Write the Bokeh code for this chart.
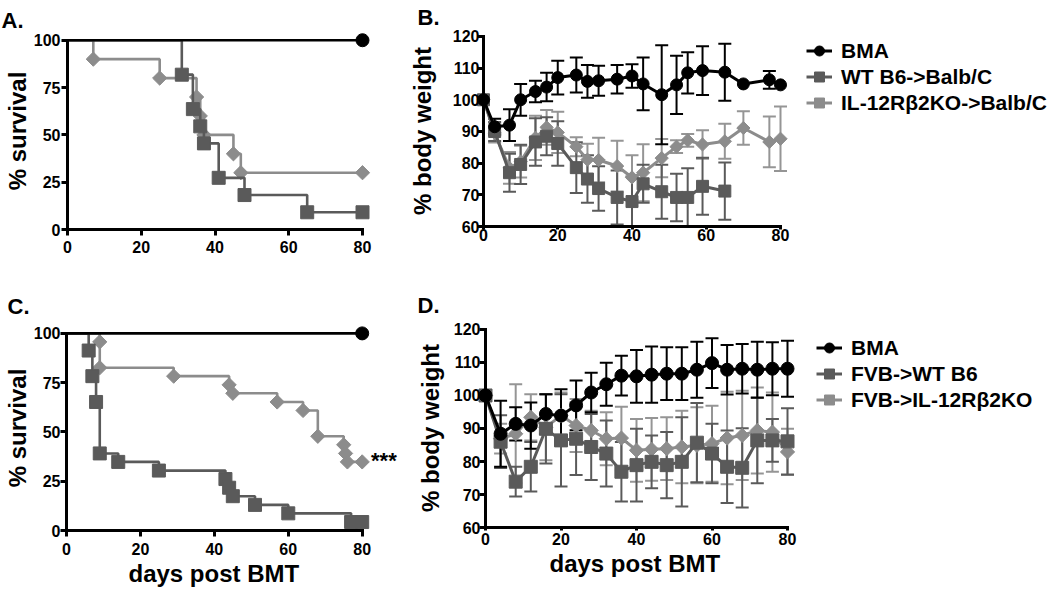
from bokeh.plotting import figure
from bokeh.layouts import column, row
from bokeh.models import (ColumnDataSource, Whisker, TeeHead, Label, Legend,
                          LegendItem, Range1d, FixedTicker, LinearAxis, Title)
from bokeh.embed import file_html
from bokeh.resources import INLINE

# ---------------- data ----------------
# Panel A: survival (%), Balb/C recipients
a_bma_days = [0, 80]
a_bma_surv = [100, 100]
a_wt_days = [0, 31, 34, 36, 37, 41, 48, 65, 80]
a_wt_surv = [100, 81.8, 63.6, 54.5, 45.5, 27.3, 18.2, 9.1, 9.1]
a_ko_days = [0, 7, 25, 35, 36, 37, 45, 47, 80]
a_ko_surv = [100, 90, 80, 70, 60, 50, 40, 30, 30]

# Panel B: % body weight, Balb/C recipients
b_bma_days = [0, 3, 7, 10, 14, 17, 20, 25, 28, 31, 36, 40, 43, 48, 52, 55, 59, 65, 70, 77, 80]
b_bma_val = [100, 91.5, 92, 100, 102.6, 104, 107, 107.8, 105.8, 106, 106.5, 107.5, 105, 101.6,
             104.7, 108.5, 109.2, 108.7, 105, 106.3, 104.7]
b_bma_err = [0, 2.5, 5, 5, 3.4, 4.5, 5.3, 5.5, 5.2, 4.7, 4.5, 3.7, 8.3, 15.6, 9.2, 6.5, 7.7, 9, 0, 2.8, 0]
b_wt_days = [0, 3, 7, 10, 14, 17, 20, 25, 28, 31, 36, 40, 43, 48, 52, 55, 59, 65]
b_wt_val = [100, 90, 77, 79.6, 86.7, 88.5, 86.2, 78.6, 75, 72, 69.2, 67.9, 73.5, 71, 69.2, 69.2, 72.7, 71.2]
b_wt_err = [0, 3, 6, 6.2, 7.5, 6, 7, 8, 7.5, 7, 8.5, 7.9, 6, 8.5, 7.5, 9.2, 9, 9]
b_ko_days = [0, 3, 7, 10, 14, 17, 20, 25, 28, 31, 36, 40, 43, 48, 52, 55, 59, 65, 70, 77, 80]
b_ko_val = [100, 89.5, 78.5, 80.5, 88, 91.3, 89.7, 85.2, 81.1, 81, 79.1, 75.5, 77, 81.6, 85.2,
            87.2, 85.9, 86.9, 91.1, 86.7, 87.7]
b_ko_err = [0, 3, 5, 5, 7, 5.5, 6.5, 3, 5, 7, 8, 7, 9, 6, 2, 2, 4.5, 5.5, 5.3, 8, 10.2]

# Panel C: survival (%), B6 recipients
c_bma_days = [0, 80]
c_bma_surv = [100, 100]
c_wt_days = [0, 6, 7, 8, 9, 14, 25, 43, 44, 45, 51, 60, 77, 80]
c_wt_surv = [100, 91.3, 78.3, 65.2, 39.1, 34.8, 30.4, 26.1, 21.7, 17.4, 13.0, 8.7, 4.3, 4.3]
c_ko_days = [0, 9, 9, 29, 44, 45, 57, 64, 68, 75, 75.5, 76, 80]
c_ko_surv = [100, 95.7, 82.6, 78.3, 73.9, 69.6, 65.2, 60.9, 47.8, 43.5, 39.1, 34.8, 34.8]

# Panel D: % body weight, B6 recipients
d_days = [0, 4, 8, 12, 16, 20, 24, 28, 32, 36, 40, 44, 48, 52, 56, 60, 64, 68, 72, 76, 80]
d_bma_val = [100, 88.4, 91.4, 90.9, 94.4, 93.9, 97, 100.9, 103.4, 106, 105.8, 106.3, 106.6, 106.6,
             107.8, 109.8, 107.8, 108.1, 107.8, 108.1, 108.1]
d_bma_err = [0, 10, 5, 7, 6, 8, 7.5, 6, 6.5, 6, 8, 8.5, 8, 8, 8.5, 7.5, 7.5, 7.5, 8.5, 8, 8.5]
d_wt_val = [100, 86, 73.9, 78.4, 89.9, 86.4, 86.9, 84.4, 82.4, 76.9, 78.9, 79.9, 78.9, 79.9,
            85.7, 82.4, 78.4, 78.1, 86.4, 86.4, 86.1]
d_wt_err = [0, 8, 4.5, 7.5, 10.5, 14, 11, 10, 10, 9, 11, 8, 10, 13.5, 12, 9, 11, 12, 13, 6.5, 10]
d_ko_val = [100, 86.9, 88.4, 93.4, 90.4, 93.9, 90.9, 89.4, 86.9, 87.1, 83.4, 83.7, 83.9, 84.4,
            84.9, 85.4, 87.1, 87.9, 89.4, 88.9, 82.9]
d_ko_err = [0, 4.5, 15, 7, 10, 7, 8, 6, 8, 9.5, 9.5, 9.5, 9.5, 11, 11.5, 11.5, 14, 13.5, 13, 12, 7]

x_ticks = [0, 20, 40, 60, 80]
surv_ticks = [0, 25, 50, 75, 100]
bw_ticks = [60, 70, 80, 90, 100, 110, 120]

legend_top = ["BMA", "WT B6->Balb/C", "IL-12R\u03b22KO->Balb/C"]
legend_bot = ["BMA", "FVB->WT B6", "FVB->IL-12R\u03b22KO"]

# ---------------- styling ----------------
FONT = "Liberation Sans"
BLACK = "#000000"
DARK = "#5a5a5a"
LIGHT = "#8c8c8c"
LIGHT_ERR = "#959595"
ROW1 = 282


def style_axis(ax, labels=True, line=True):
    ax.axis_line_width = 3
    ax.axis_line_color = BLACK if line else None
    ax.axis_line_cap = "square"
    ax.major_tick_line_width = 3
    ax.major_tick_line_color = BLACK if line else None
    ax.major_tick_out = 6 if line else 0
    ax.major_tick_in = 0
    ax.minor_tick_line_color = None
    ax.major_label_text_font = FONT
    ax.major_label_text_font_style = "bold"
    ax.major_label_text_font_size = "16px" if labels else "0px"
    ax.major_label_text_color = BLACK if labels else None
    ax.axis_label_text_font = FONT
    ax.axis_label_text_font_style = "bold"
    ax.axis_label_text_font_size = "24px"
    ax.axis_label_text_color = BLACK


class Panel:
    def __init__(self, fig, axes_px, frame_px, xr, yr):
        fx, fy, fw, fh = fig
        axl, axr, axt, axb = axes_px
        fl, fr, ft, fb = frame_px
        self.sx = (axr - axl) / (xr[1] - xr[0])
        self.sy = (axb - axt) / (yr[1] - yr[0])
        self.axl, self.axb, self.xr, self.yr = axl, axb, xr, yr
        self.fl, self.fb, self.ft = fl, fb, ft
        p = figure(width=fw, height=fh,
                   min_border_left=fl - fx, min_border_right=fx + fw - fr,
                   min_border_top=ft - fy, min_border_bottom=fy + fh - fb,
                   x_range=Range1d(xr[0] - (axl - fl) / self.sx, xr[1] + (fr - axr) / self.sx),
                   y_range=Range1d(yr[0] - (fb - axb) / self.sy, yr[1] + (axt - ft) / self.sy),
                   output_backend="svg", toolbar_location=None, title=None)
        p.outline_line_color = None
        p.xgrid.visible = False
        p.ygrid.visible = False
        p.background_fill_color = "white"
        p.border_fill_color = "white"
        self.p = p

    def data(self, px, py):
        return (self.xr[0] + (px - self.axl) / self.sx,
                self.yr[0] + (self.axb - py) / self.sy)

    def axes(self, xticks, yticks, fixed, xstand, ystand, ytitle, ytstand):
        p = self.p
        xa, ya = p.xaxis[0], p.yaxis[0]
        for ax, t, b in ((xa, xticks, self.xr), (ya, yticks, self.yr)):
            ax.ticker = FixedTicker(ticks=t)
            ax.bounds = b
            style_axis(ax, labels=True, line=not fixed)
        xa.major_label_standoff = xstand
        ya.major_label_standoff = ystand
        ya.axis_label = ytitle
        ya.axis_label_standoff = ytstand
        if fixed:
            fx_ = LinearAxis(fixed_location=self.yr[0], ticker=FixedTicker(ticks=xticks),
                             bounds=self.xr, major_label_standoff=0)
            fy_ = LinearAxis(fixed_location=self.xr[0], ticker=FixedTicker(ticks=yticks),
                             bounds=self.yr, major_label_standoff=0)
            style_axis(fx_, labels=False)
            style_axis(fy_, labels=False)
            p.add_layout(fx_, "below")
            p.add_layout(fy_, "left")

    def xtitle(self, txt, left_px, standoff):
        self.p.add_layout(Title(text=txt, align="left", offset=left_px - self.fl,
                                standoff=standoff, text_font=FONT, text_font_style="bold",
                                text_font_size="24px", text_color=BLACK), "below")

    def letter(self, txt, left_px, standoff):
        self.p.add_layout(Title(text=txt, align="left", offset=left_px - self.fl,
                                standoff=standoff, text_font=FONT, text_font_style="bold",
                                text_font_size="22px", text_color=BLACK), "above")

    def text(self, txt, px, py, size):
        x, y = self.data(px, py)
        self.p.add_layout(Label(x=x, y=y, text=txt, text_font=FONT, text_font_style="bold",
                                text_font_size=size, text_color=BLACK))

    def legend(self, items, glyph_left, top):
        n = len(items)
        h = n * 25 + (n - 1) * 1
        lg = Legend(items=items, location=(glyph_left - self.fl, self.fb - (top + h)),
                    label_text_font=FONT, label_text_font_style="bold",
                    label_text_font_size="21px", label_text_color=BLACK,
                    border_line_color=None, background_fill_alpha=0,
                    padding=0, margin=0, spacing=1, label_height=25, glyph_height=25,
                    glyph_width=26, label_standoff=9)
        self.p.add_layout(lg)


def marker_kw(kind, size):
    if kind == "diamond":
        return dict(marker="square", angle=0.785398, size=size * 0.72)
    return dict(marker=kind, size=size)


def survival(pn, days, surv, color, kind, size):
    p = pn.p
    p.step(days, surv, mode="after", line_color=color, line_width=2.6)
    p.scatter(days[1:], surv[1:], fill_color=color, line_color=color, **marker_kw(kind, size))


def errbars(pn, days, vals, errs, color):
    idx = [i for i, e in enumerate(errs) if e > 0]
    src = ColumnDataSource(dict(x=[days[i] for i in idx],
                                lo=[vals[i] - errs[i] for i in idx],
                                hi=[vals[i] + errs[i] for i in idx]))
    pn.p.add_layout(Whisker(source=src, base="x", lower="lo", upper="hi", dimension="height",
                            line_color=color, line_width=2,
                            upper_head=TeeHead(size=13, line_color=color, line_width=2),
                            lower_head=TeeHead(size=13, line_color=color, line_width=2)))


def weight_marks(pn, days, vals, color, kind, size):
    p = pn.p
    lr = p.line(days, vals, line_color=color, line_width=3)
    sr = p.scatter(days, vals, fill_color=color, line_color=color, **marker_kw(kind, size))
    return [lr, sr]


# ---------------- panel A ----------------
A = Panel((0, 0, 400, ROW1), (67, 362, 33, 229), (67, 370, 25, 229), (0, 80), (0, 100))
A.axes(x_ticks, surv_ticks, False, 5, 1, "% survival", 0)
survival(A, a_ko_days, a_ko_surv, LIGHT, "diamond", 14)
survival(A, a_wt_days, a_wt_surv, DARK, "square", 13)
A.p.line(a_bma_days, a_bma_surv, line_color=BLACK, line_width=2.6)
A.p.scatter(a_bma_days[-1:], a_bma_surv[-1:], marker="circle", size=13, color=BLACK)
A.letter("A.", 1, 0)

# ---------------- panel B ----------------
B = Panel((400, 0, 650, ROW1), (483, 780, 34, 231), (475, 1050, 30, 234), (0, 80), (60, 120))
B.axes(x_ticks, bw_ticks, True, -1, -4, "% body weight", 14)
errbars(B, b_ko_days, b_ko_val, b_ko_err, LIGHT_ERR)
errbars(B, b_wt_days, b_wt_val, b_wt_err, DARK)
errbars(B, b_bma_days, b_bma_val, b_bma_err, BLACK)
rk = weight_marks(B, b_ko_days, b_ko_val, LIGHT, "diamond", 13)
rw = weight_marks(B, b_wt_days, b_wt_val, DARK, "square", 12)
rb = weight_marks(B, b_bma_days, b_bma_val, BLACK, "circle", 12)
B.legend([LegendItem(label=legend_top[0], renderers=rb),
          LegendItem(label=legend_top[1], renderers=rw),
          LegendItem(label=legend_top[2], renderers=rk)], 806, 43)
B.letter("B.", 417, 5)

# ---------------- panel C ----------------
C = Panel((0, ROW1, 400, 592 - ROW1), (60, 361, 330, 530), (60, 400, 322, 530), (0, 80), (0, 100))
C.axes(x_ticks, surv_ticks, False, 6, 0, "% survival", 0)
survival(C, c_ko_days, c_ko_surv, LIGHT, "diamond", 14)
survival(C, c_wt_days, c_wt_surv, DARK, "square", 13)
C.p.line(c_bma_days, c_bma_surv, line_color=BLACK, line_width=2.6)
C.p.scatter(c_bma_days[-1:], c_bma_surv[-1:], marker="circle", size=13, color=BLACK)
C.letter("C.", 1, 14)
C.xtitle("days post BMT", 122, 0)
C.text("***", 370, 472, "22px")

# ---------------- panel D ----------------
D = Panel((400, ROW1, 650, 592 - ROW1), (485, 787, 329, 530), (477, 1050, 325, 533), (0, 80), (60, 120))
D.axes(x_ticks, bw_ticks, True, 2, -3, "% body weight", 7)
errbars(D, d_days, d_ko_val, d_ko_err, LIGHT_ERR)
errbars(D, d_days, d_wt_val, d_wt_err, DARK)
errbars(D, d_days, d_bma_val, d_bma_err, BLACK)
dk = weight_marks(D, d_days, d_ko_val, LIGHT, "diamond", 14)
dw = weight_marks(D, d_days, d_wt_val, DARK, "square", 13)
db = weight_marks(D, d_days, d_bma_val, BLACK, "circle", 13)
D.legend([LegendItem(label=legend_bot[0], renderers=db),
          LegendItem(label=legend_bot[1], renderers=dw),
          LegendItem(label=legend_bot[2], renderers=dk)], 816, 338)
D.letter("D.", 417, 16)
D.xtitle("days post BMT", 549, 0)

layout = column(row(A.p, B.p), row(C.p, D.p))
open("out.html", "w").write(file_html(layout, INLINE))
